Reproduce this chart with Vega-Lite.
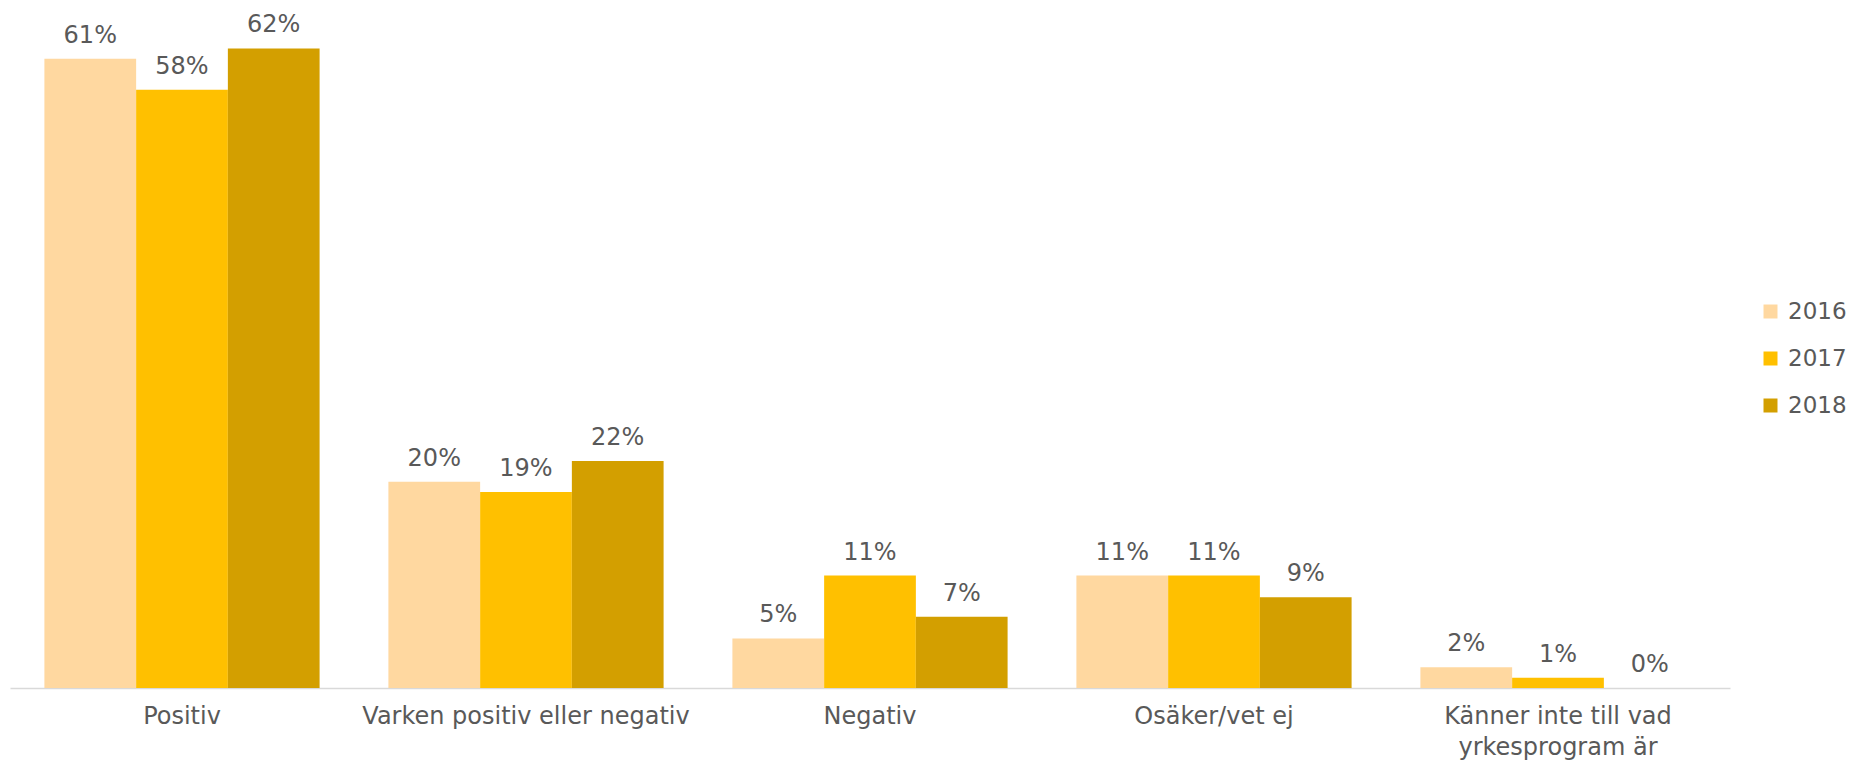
{
  "$schema": "https://vega.github.io/schema/vega-lite/v6.json",
  "autosize": {"type": "none"},
  "padding": {"left": 10, "top": 1, "right": 124, "bottom": 75},
  "width": 1720,
  "height": 687,
  "background": "white",
  "config": {"view": {"stroke": null}, "font": "DejaVu Sans"},
  "data": {
    "values": [
      {"kategori": "Positiv", "år": "2016", "andel": 0.61},
      {"kategori": "Positiv", "år": "2017", "andel": 0.58},
      {"kategori": "Positiv", "år": "2018", "andel": 0.62},
      {"kategori": "Varken positiv eller negativ", "år": "2016", "andel": 0.20},
      {"kategori": "Varken positiv eller negativ", "år": "2017", "andel": 0.19},
      {"kategori": "Varken positiv eller negativ", "år": "2018", "andel": 0.22},
      {"kategori": "Negativ", "år": "2016", "andel": 0.048},
      {"kategori": "Negativ", "år": "2017", "andel": 0.109},
      {"kategori": "Negativ", "år": "2018", "andel": 0.069},
      {"kategori": "Osäker/vet ej", "år": "2016", "andel": 0.109},
      {"kategori": "Osäker/vet ej", "år": "2017", "andel": 0.109},
      {"kategori": "Osäker/vet ej", "år": "2018", "andel": 0.088},
      {"kategori": "Känner inte till vad yrkesprogram är", "år": "2016", "andel": 0.02},
      {"kategori": "Känner inte till vad yrkesprogram är", "år": "2017", "andel": 0.01},
      {"kategori": "Känner inte till vad yrkesprogram är", "år": "2018", "andel": 0.0}
    ]
  },
  "encoding": {
    "x": {
      "field": "kategori",
      "type": "nominal",
      "sort": ["Positiv", "Varken positiv eller negativ", "Negativ", "Osäker/vet ej", "Känner inte till vad yrkesprogram är"],
      "scale": {"paddingInner": 0.2, "paddingOuter": 0.1},
      "axis": {
        "title": null,
        "labelAngle": 0,
        "labelLimit": 0,
        "labelFontSize": 24,
        "labelColor": "#595959",
        "labelPadding": 16,
        "labelLineHeight": 31,
        "ticks": false,
        "domainColor": "#D9D9D9",
        "domainWidth": 1.5,
        "labelExpr": "datum.label == 'Känner inte till vad yrkesprogram är' ? ['Känner inte till vad', 'yrkesprogram är'] : datum.label"
      }
    },
    "xOffset": {"field": "år", "type": "nominal", "scale": {"paddingInner": 0, "paddingOuter": 0}},
    "y": {"field": "andel", "type": "quantitative", "scale": {"domain": [0, 0.666], "nice": false}, "axis": null}
  },
  "layer": [
    {
      "mark": {"type": "bar"},
      "encoding": {
        "color": {
          "field": "år",
          "type": "nominal",
          "scale": {"domain": ["2016", "2017", "2018"], "range": ["#FFD8A0", "#FFC000", "#D39F00"]},
          "legend": {
            "orient": "none",
            "legendX": 1749,
            "legendY": 299,
            "title": null,
            "padding": 0,
            "symbolType": "square",
            "symbolSize": 196,
            "symbolStrokeWidth": 0,
            "labelFontSize": 23,
            "labelColor": "#595959",
            "labelOffset": 6,
            "rowPadding": 23
          }
        }
      }
    },
    {
      "mark": {"type": "text", "dy": -16, "baseline": "alphabetic", "fontSize": 24, "color": "#595959"},
      "encoding": {
        "text": {"field": "andel", "type": "quantitative", "format": ".0%"}
      }
    }
  ]
}
